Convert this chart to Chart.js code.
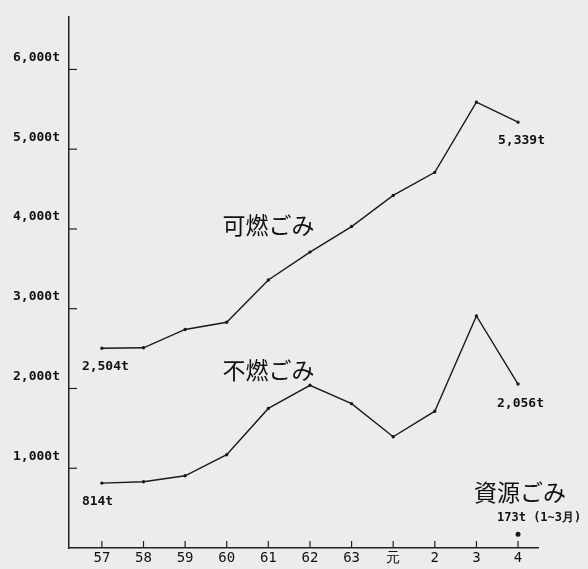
<!DOCTYPE html>
<html>
<head>
<meta charset="utf-8">
<script src="https://cdn.jsdelivr.net/npm/chart.js@4"></script>
<style>
  html, body { margin: 0; padding: 0; background: #ececec; }
  canvas { display: block; }
</style>
</head>
<body>
<canvas id="chart" width="588" height="569"></canvas>
<script>
// years (昭和57〜平成4)
const years = ['57', '58', '59', '60', '61', '62', '63', '元', '2', '3', '4'];
const combustible = [2504, 2510, 2740, 2830, 3360, 3710, 4030, 4420, 4710, 5590, 5339];
const nonCombustible = [814, 830, 905, 1170, 1750, 2040, 1810, 1395, 1715, 2910, 2056];
const resource = [null, null, null, null, null, null, null, null, null, null, 173];
const yTicks = [1000, 2000, 3000, 4000, 5000, 6000];

const toPoints = arr => arr.map((v, i) => ({ x: i, y: v })).filter(p => p.y !== null);

const monoFont = '"DejaVu Sans Mono", "Liberation Mono", monospace';
const jpFont = '"Noto Sans CJK JP", sans-serif';

// scan-like background
const bgPlugin = {
  id: 'bg',
  beforeDraw(chart) {
    const ctx = chart.ctx;
    ctx.save();
    ctx.fillStyle = '#ececec';
    ctx.fillRect(0, 0, chart.width, chart.height);
    ctx.restore();
  }
};

// inward tick marks on both axes
const innerTicks = {
  id: 'innerTicks',
  afterDraw(chart) {
    const { ctx, scales: { x, y }, chartArea } = chart;
    ctx.save();
    ctx.strokeStyle = '#222';
    ctx.lineWidth = 1.2;
    years.forEach((_, i) => {
      const px = x.getPixelForValue(i);
      ctx.beginPath();
      ctx.moveTo(px, chartArea.bottom);
      ctx.lineTo(px, chartArea.bottom - 7);
      ctx.stroke();
    });
    yTicks.forEach(v => {
      const py = y.getPixelForValue(v);
      ctx.beginPath();
      ctx.moveTo(chartArea.left, py);
      ctx.lineTo(chartArea.left + 8, py);
      ctx.stroke();
    });
    ctx.restore();
  }
};

// value labels and series names
const annotations = {
  id: 'annotations',
  afterDatasetsDraw(chart) {
    const { ctx, scales: { x, y } } = chart;
    const last = years.length - 1;
    ctx.save();
    ctx.fillStyle = '#111';
    ctx.textBaseline = 'middle';
    ctx.textAlign = 'left';

    ctx.font = 'bold 13px ' + monoFont;
    ctx.fillText('2,504t', x.getPixelForValue(0) - 20, y.getPixelForValue(combustible[0]) + 18);
    ctx.fillText('814t', x.getPixelForValue(0) - 20, y.getPixelForValue(nonCombustible[0]) + 19);
    ctx.fillText('5,339t', x.getPixelForValue(last) - 20, y.getPixelForValue(combustible[last]) + 18);
    ctx.fillText('2,056t', x.getPixelForValue(last) - 21, y.getPixelForValue(nonCombustible[last]) + 20);

    ctx.font = 'bold 12px ' + monoFont;
    ctx.fillText('173t (1~3月)', x.getPixelForValue(last) - 21, y.getPixelForValue(resource[last]) - 16);

    ctx.font = '23px ' + jpFont;
    ctx.fillText('可燃ごみ', x.getPixelForValue(2.9), y.getPixelForValue(4050));
    ctx.fillText('不燃ごみ', x.getPixelForValue(2.9), y.getPixelForValue(2230));
    ctx.fillText('資源ごみ', x.getPixelForValue(last) - 44, y.getPixelForValue(resource[last]) - 42);
    ctx.restore();
  }
};

const lineStyle = {
  borderColor: '#1a1a1a',
  backgroundColor: '#1a1a1a',
  borderWidth: 1.4,
  pointRadius: 1,
  pointHoverRadius: 1,
  tension: 0,
  fill: false
};

new Chart(document.getElementById('chart'), {
  type: 'line',
  data: {
    datasets: [
      Object.assign({ label: '可燃ごみ', data: toPoints(combustible) }, lineStyle),
      Object.assign({ label: '不燃ごみ', data: toPoints(nonCombustible) }, lineStyle),
      Object.assign({ label: '資源ごみ', data: toPoints(resource) }, lineStyle, { pointRadius: 1.8, showLine: false })
    ]
  },
  options: {
    responsive: false,
    animation: false,
    events: [],
    layout: { padding: { top: 13, right: 50, left: 0, bottom: 0 } },
    plugins: { legend: { display: false }, tooltip: { enabled: false } },
    scales: {
      x: {
        type: 'linear',
        min: -0.79,
        max: 10.48,
        afterBuildTicks: scale => { scale.ticks = years.map((_, i) => ({ value: i })); },
        afterFit: scale => { scale.height = 21; },
        grid: { display: false, drawTicks: false },
        border: { color: '#222', width: 1.5 },
        ticks: {
          padding: 2,
          color: '#111',
          font: { family: monoFont, size: 14 },
          callback: v => years[v]
        }
      },
      y: {
        min: 0,
        max: 6660,
        afterBuildTicks: scale => { scale.ticks = yTicks.map(v => ({ value: v })); },
        afterFit: scale => { scale.width = 69; },
        grid: { display: false, drawTicks: false },
        border: { color: '#222', width: 1.5 },
        ticks: {
          padding: 9,
          labelOffset: -12,
          color: '#111',
          font: { family: monoFont, size: 13, weight: 'bold' },
          callback: v => v.toLocaleString('en-US') + 't'
        }
      }
    }
  },
  plugins: [bgPlugin, innerTicks, annotations]
});
</script>
</body>
</html>
